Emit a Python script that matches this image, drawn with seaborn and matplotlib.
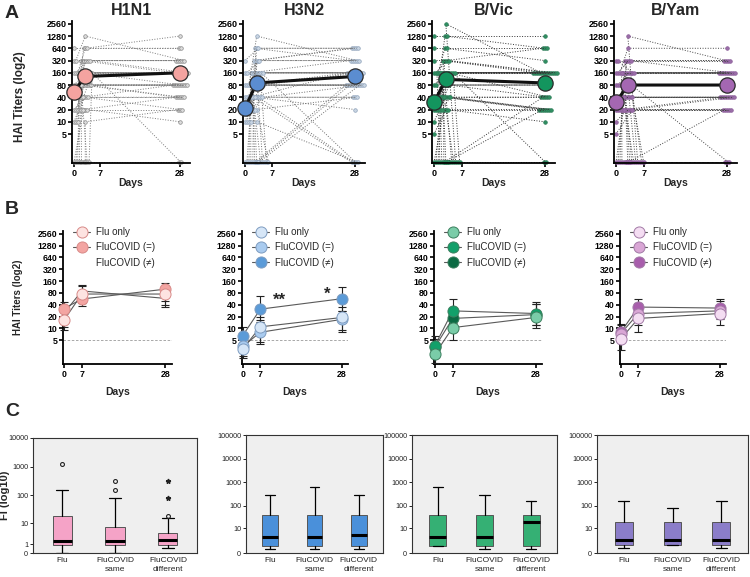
import numpy as np
import pandas as pd
import matplotlib
matplotlib.use("Agg")
import matplotlib.pyplot as plt
from matplotlib.lines import Line2D
from matplotlib.ticker import FixedLocator, NullLocator
import seaborn as sns

sns.set_style("ticks")
plt.rcParams["font.family"] = ["Liberation Sans", "DejaVu Sans"]

strains = ["H1N1", "H3N2", "B/Vic", "B/Yam"]
titer_ticks = [5, 10, 20, 40, 80, 160, 320, 640, 1280, 2560]

# ---- panel A: titer of each subject at day 0, day 3, day 28 (1 = undetectable)
days_a = [0, 3, 28]
day_ticks = [0, 7, 28]

h1_d0 = [1, 1, 1, 1, 1, 1, 1, 1, 10, 10, 10, 20, 20, 20, 20, 20, 40, 40, 40, 40, 40, 40, 80, 80, 80, 80, 80, 160, 160, 160, 160, 320, 320, 640, 1, 20]
h1_d3 = [20, 40, 80, 160, 320, 1, 10, 80, 40, 80, 160, 40, 80, 160, 320, 20, 80, 160, 160, 40, 320, 80, 160, 80, 320, 640, 160, 160, 320, 640, 80, 320, 1280, 640, 160, 20]
h1_d28 = [40, 80, 80, 160, 160, 1, 20, 80, 20, 40, 160, 40, 80, 160, 320, 20, 40, 160, 80, 40, 320, 80, 160, 80, 320, 640, 160, 160, 320, 1280, 80, 160, 320, 640, 1, 10]

h3_d0 = [1, 1, 1, 1, 1, 1, 1, 1, 1, 1, 10, 10, 10, 20, 20, 20, 20, 40, 40, 40, 40, 40, 80, 80, 80, 160, 160, 320, 1, 1, 20, 40, 80, 1, 10, 20]
h3_d3 = [1, 40, 80, 160, 320, 80, 160, 1, 40, 640, 40, 80, 160, 40, 80, 160, 320, 40, 80, 160, 320, 640, 80, 160, 1280, 160, 320, 640, 1, 80, 40, 80, 160, 20, 10, 40]
h3_d28 = [80, 160, 160, 320, 640, 80, 160, 80, 1, 320, 20, 80, 160, 40, 80, 160, 640, 1, 80, 160, 320, 640, 80, 160, 320, 1, 320, 640, 80, 160, 40, 80, 160, 40, 1, 80]

bv_d0 = [1, 1, 1, 1, 1, 1, 1, 1, 1, 1, 1, 1, 5, 10, 20, 20, 20, 20, 40, 40, 40, 40, 40, 80, 80, 160, 160, 160, 160, 320, 640, 1280, 1, 1, 20, 40]
bv_d3 = [20, 40, 80, 160, 160, 320, 40, 1, 1, 80, 160, 2560, 20, 40, 20, 40, 80, 160, 40, 80, 160, 160, 320, 160, 160, 160, 320, 640, 1280, 320, 640, 1280, 1, 160, 40, 160]
bv_d28 = [20, 40, 80, 160, 160, 160, 20, 40, 20, 80, 160, 160, 10, 20, 20, 40, 80, 160, 20, 40, 160, 160, 160, 160, 40, 160, 640, 320, 640, 160, 640, 1280, 1, 1, 20, 160]

by_d0 = [1, 1, 1, 1, 1, 1, 1, 1, 1, 1, 1, 1, 10, 20, 20, 20, 20, 40, 40, 40, 40, 80, 80, 160, 160, 160, 320, 320, 1, 1, 20, 40, 80, 160, 1, 5]
by_d3 = [20, 40, 80, 160, 1, 1, 40, 80, 160, 20, 320, 1280, 20, 40, 80, 160, 20, 40, 80, 160, 320, 80, 160, 160, 320, 640, 320, 160, 1, 80, 20, 40, 80, 160, 40, 20]
by_d28 = [20, 40, 80, 160, 1, 20, 40, 80, 160, 40, 320, 320, 20, 40, 80, 160, 20, 40, 80, 160, 320, 80, 160, 160, 160, 640, 320, 160, 1, 1, 20, 40, 80, 160, 40, 40]

h1_mean = [55, 130, 160]
h3_mean = [22, 90, 130]
bv_mean = [30, 110, 90]
by_mean = [30, 80, 80]

# ---- panel B: group means with error bars
groups = ["Flu only", "FluCOVID (=)", "FluCOVID (\u2260)"]
b_pos = [0, 5, 28]
b_labels = ["0", "7", "28"]

h1_b_mean = [[16, 75, 75], [32, 56, 100], [24, 90, 58]]
h1_b_lo = [[9, 45, 50], [20, 37, 36], [11, 55, 40]]
h1_b_hi = [[28, 120, 110], [48, 85, 143], [37, 130, 85]]

h3_b_mean = [[3.0, 11, 19], [3.5, 8, 17], [6.6, 31, 57]]
h3_b_lo = [[1.8, 4.5, 9], [2, 4, 8], [4, 15, 28]]
h3_b_hi = [[4.5, 20, 35], [6, 16, 28], [11, 66, 116]]

bv_b_mean = [[2.2, 10.5, 19], [3.6, 28, 24], [3.3, 18, 22.5]]
bv_b_lo = [[1.3, 5, 10], [2.2, 14, 12], [2, 10, 12]]
bv_b_hi = [[3.8, 22, 41], [6.6, 55, 47], [5.5, 33, 42]]

by_b_mean = [[5.4, 18, 24], [7.4, 24, 28], [8, 35, 33]]
by_b_lo = [[2.9, 8, 12], [4.5, 12, 17], [5, 20, 20]]
by_b_hi = [[8.5, 33, 40], [12, 45, 50], [13, 55, 57]]

# ---- panel C: box plot summaries of FI
c_groups = ["Flu", "FluCOVID\nsame", "FluCOVID\ndifferent"]

c_h1_low = [0, 0, 0.45]
c_h1_q1 = [0.9, 0.9, 0.9]
c_h1_med = [1.7, 1.7, 1.8]
c_h1_q3 = [19, 7.2, 3.8]
c_h1_high = [155, 79, 16]
c_h1_out = [[1250], [155, 315], [19]]
c_h1_far = [[], [], [80, 315]]

c_h3_low = [0.5, 0.5, 0.5]
c_h3_q1 = [1, 1, 1]
c_h3_med = [4, 4, 5]
c_h3_q3 = [40, 40, 40]
c_h3_high = [300, 640, 300]
c_h3_out = [[], [], []]
c_h3_far = [[], [], []]

c_bv_low = [0.9, 0.45, 0.45]
c_bv_q1 = [0.9, 0.9, 0.9]
c_bv_med = [4, 4, 19]
c_bv_q3 = [40, 40, 40]
c_bv_high = [620, 300, 155]
c_bv_out = [[], [], []]
c_bv_far = [[], [], []]

c_by_low = [0.6, 1.2, 0.6]
c_by_q1 = [1.2, 1.2, 1.2]
c_by_med = [2.4, 2.4, 2.4]
c_by_q3 = [20, 20, 20]
c_by_high = [160, 80, 160]
c_by_out = [[], [], []]
c_by_far = [[], [], []]

# colours
a_mean_col = ["#F4A3A0", "#5B8DD0", "#13955E", "#A467B2"]
a_pt_face = ["#dcdcdc", "#c9d5e3", "#2f8f62", "#9b6ea9"]
a_pt_edge = ["#8a8a8a", "#8fa3bb", "#2a7a55", "#8a5c98"]
a_line_col = ["#7a7a7a", "#6f6f6f", "#333333", "#444444"]
b_cols = [["#FDE3E1", "#F3A5A2", None],
          ["#D6E6F7", "#A9CBEF", "#5B9BD8"],
          ["#7ACCA8", "#12A06A", "#0B6A43"],
          ["#F4DDF2", "#D9A6D5", "#A85EAC"]]
b_edge = ["#D88A88", "#7E9CC0", "#3C7F5E", "#A27AA6"]
c_cols = ["#F5A3C7", "#4A90DA", "#35B074", "#8B7DC9"]

a_data = [(h1_d0, h1_d3, h1_d28), (h3_d0, h3_d3, h3_d28),
          (bv_d0, bv_d3, bv_d28), (by_d0, by_d3, by_d28)]
a_means = [h1_mean, h3_mean, bv_mean, by_mean]
b_data = [(h1_b_mean, h1_b_lo, h1_b_hi), (h3_b_mean, h3_b_lo, h3_b_hi),
          (bv_b_mean, bv_b_lo, bv_b_hi), (by_b_mean, by_b_lo, by_b_hi)]
c_data = [(c_h1_low, c_h1_q1, c_h1_med, c_h1_q3, c_h1_high, c_h1_out, c_h1_far),
          (c_h3_low, c_h3_q1, c_h3_med, c_h3_q3, c_h3_high, c_h3_out, c_h3_far),
          (c_bv_low, c_bv_q1, c_bv_med, c_bv_q3, c_bv_high, c_bv_out, c_bv_far),
          (c_by_low, c_by_q1, c_by_med, c_by_q3, c_by_high, c_by_out, c_by_far)]


def spread(vals, center, step, from_left):
    # tied values are laid side by side, like a column scatter
    vals = np.asarray(vals, dtype=float)
    xs = np.zeros(len(vals))
    for v in np.unique(vals):
        idx = np.where(vals == v)[0]
        k = np.arange(len(idx))
        off = k * step if from_left else (k - (len(idx) - 1) / 2) * step
        xs[idx] = center + off
    return xs


def style_titer_axis(ax, fs=6.5):
    ax.set_yscale("log", base=2)
    ax.yaxis.set_major_locator(FixedLocator(titer_ticks))
    ax.set_yticklabels([str(t) for t in titer_ticks])
    ax.yaxis.set_minor_locator(NullLocator())
    for s in ["top", "right"]:
        ax.spines[s].set_visible(False)
    for s in ["left", "bottom"]:
        ax.spines[s].set_linewidth(1.3)
        ax.spines[s].set_color("black")
    ax.tick_params(width=1.2, length=3, labelsize=fs, pad=1, colors="black")
    for lab in ax.get_xticklabels() + ax.get_yticklabels():
        lab.set_fontweight("bold")


W, H = 750, 577
fig = plt.figure(figsize=(W / 100, H / 100), dpi=100)


def add_ax(left, top, right, bottom):
    return fig.add_axes([left / W, 1 - bottom / H, (right - left) / W, (bottom - top) / H])


# ---------------- row A
a_box = [(72, 190), (243, 365), (432, 555), (614, 737)]
for i, (l, r) in enumerate(a_box):
    ax = add_ax(l, 21, r, 163)
    d0, d3, d28 = a_data[i]
    n = len(d0)
    rows = []
    xs = [spread(d0, days_a[0], 0.5, True), spread(d3, days_a[1], 0.45, False),
          spread(d28, days_a[2], 0.5, False)]
    for s in range(n):
        for j, vals in enumerate((d0, d3, d28)):
            rows.append({"subject": s, "visit": j, "x": xs[j][s], "titer": vals[s]})
    df = pd.DataFrame(rows)
    sns.lineplot(data=df, x="x", y="titer", units="subject", estimator=None, sort=False,
                 ax=ax, color=a_line_col[i], linewidth=0.7, linestyle=":",
                 marker="o", markersize=2.6, markerfacecolor=a_pt_face[i],
                 markeredgecolor=a_pt_edge[i], markeredgewidth=0.5, clip_on=False)
    ax.plot(days_a, a_means[i], "-o", color="#111111", lw=2.2, ms=11,
            mfc=a_mean_col[i], mec="#2a2a2a", mew=0.9, zorder=6, clip_on=False)
    style_titer_axis(ax)
    ax.set_ylim(0.97, 3000)
    ax.set_xlim(-0.5, 30.6)
    ax.set_xticks(day_ticks)
    ax.set_xticklabels([str(d) for d in day_ticks], fontweight="bold")
    ax.set_xlabel("Days", fontsize=7.5, fontweight="bold", labelpad=0)
    ax.set_ylabel("")
    ax.set_title(strains[i], fontsize=11.5, fontweight="bold", pad=4)
    if i == 0:
        ax.set_ylabel("HAI Titers (log2)", fontsize=8.5, fontweight="bold")
        ax.yaxis.set_label_coords(-(72 - 26) / (190 - 72), 0.47)

# ---------------- row B
b_box = [(63, 172), (242, 348), (434, 542), (620, 726)]
for i, (l, r) in enumerate(b_box):
    ax = add_ax(l, 231, r, 364)
    means, los, his = b_data[i]
    ax.axhline(5, ls=(0, (3, 2)), color="#9a9a9a", lw=0.6, zorder=1)
    handles = []
    for g in [2, 1, 0]:
        m = np.array(means[g], dtype=float)
        err = [m - np.array(los[g]), np.array(his[g]) - m]
        col = b_cols[i][g]
        ax.errorbar(b_pos, m, yerr=err, fmt="-", color="#5a5a5a", lw=0.8,
                    ecolor="#222222", elinewidth=0.8, capsize=3.2, capthick=0.8,
                    zorder=2 + (2 - g), clip_on=False)
        if col is not None:
            ax.plot(b_pos, m, "o", ms=8, mfc=col, mec=b_edge[i], mew=0.7,
                    zorder=5 + (2 - g), clip_on=False)
    for g in range(3):
        col = b_cols[i][g]
        if col is None:
            handles.append(Line2D([], [], linestyle="none"))
        else:
            handles.append(Line2D([], [], color="#5a5a5a", lw=0.8, marker="o", ms=8,
                                  mfc=col, mec=b_edge[i], mew=0.7))
    style_titer_axis(ax, fs=6.3)
    ax.set_ylim(1.25, 3000)
    ax.set_xlim(-0.2, 29.8)
    ax.set_xticks(b_pos)
    ax.set_xticklabels(b_labels, fontweight="bold")
    ax.set_xlabel("Days", fontsize=7.5, fontweight="bold", labelpad=6)
    ax.legend(handles, groups, loc="upper left", bbox_to_anchor=(0.06, 1.06),
              frameon=False, fontsize=7, handlelength=1.7, handletextpad=0.6,
              labelspacing=0.55, borderaxespad=0)
    if i == 0:
        ax.set_ylabel("HAI Titers (log2)", fontsize=7, fontweight="bold")
        ax.yaxis.set_label_coords(-(63 - 23) / (172 - 63), 0.5)
    if i == 1:
        ax.text(10.5, 52, "**", fontsize=12, fontweight="bold", ha="center", va="center")
        ax.text(23.8, 72, "*", fontsize=12, fontweight="bold", ha="center", va="center")

# ---------------- row C
def fwd(y):
    return np.log10(np.clip(y, 0, None) + 1)


def inv(y):
    return 10 ** np.asarray(y) - 1


c_box = [(33, 438, 197), (246, 435, 383), (412, 435, 557), (597, 435, 748)]
c_tops = [10000, 100000, 100000, 100000]
c_ticks = [[0, 1, 10, 100, 1000, 10000], [0, 10, 100, 1000, 10000, 100000],
           [0, 10, 100, 1000, 10000, 100000], [0, 10, 100, 1000, 10000, 100000]]
for i, (l, t, r) in enumerate(c_box):
    ax = add_ax(l, t, r, 553)
    low, q1, med, q3, high, out, far = c_data[i]
    stats = []
    for k in range(3):
        stats.append({"whislo": low[k], "q1": q1[k], "med": med[k], "q3": q3[k],
                      "whishi": high[k], "fliers": out[k], "label": c_groups[k]})
    ax.set_yscale("function", functions=(fwd, inv))
    ax.bxp(stats, positions=[0, 1, 2], widths=0.36, patch_artist=True, capwidths=0.22,
           boxprops=dict(facecolor=c_cols[i], edgecolor="#555555", linewidth=0.7),
           medianprops=dict(color="black", linewidth=2.2),
           whiskerprops=dict(color="black", linewidth=0.9),
           capprops=dict(color="black", linewidth=0.9),
           flierprops=dict(marker="o", markersize=2.8, markerfacecolor="none",
                           markeredgecolor="#222222", markeredgewidth=0.8))
    for k in range(3):
        if far[k]:
            ax.plot([k] * len(far[k]), far[k], "*", color="#222222", ms=3.5, ls="none")
    ax.set_facecolor("#EFEFEF")
    ax.set_ylim(0, c_tops[i])
    ax.set_xlim(-0.55, 2.55)
    ax.yaxis.set_major_locator(FixedLocator(c_ticks[i]))
    ax.set_yticklabels([str(v) for v in c_ticks[i]])
    ax.yaxis.set_minor_locator(NullLocator())
    ax.set_xticks([0, 1, 2])
    ax.set_xticklabels(c_groups, fontsize=6, linespacing=1.3)
    ax.tick_params(axis="x", length=0, pad=3)
    ax.tick_params(axis="y", length=2.5, width=0.7, labelsize=5.2, pad=1, colors="#222222")
    for s in ax.spines.values():
        s.set_linewidth(0.8)
        s.set_color("#333333")
    if i == 0:
        ax.set_ylabel("FI (log10)", fontsize=8, fontweight="bold")
        ax.yaxis.set_label_coords(-(33 - 10) / (197 - 33), 0.5)

# panel letters
for lab, y in [("A", 14), ("B", 210), ("C", 411)]:
    fig.text(12 / W, 1 - y / H, lab, fontsize=14, fontweight="bold", ha="center", va="center")

fig.savefig("out.png", dpi=100)
